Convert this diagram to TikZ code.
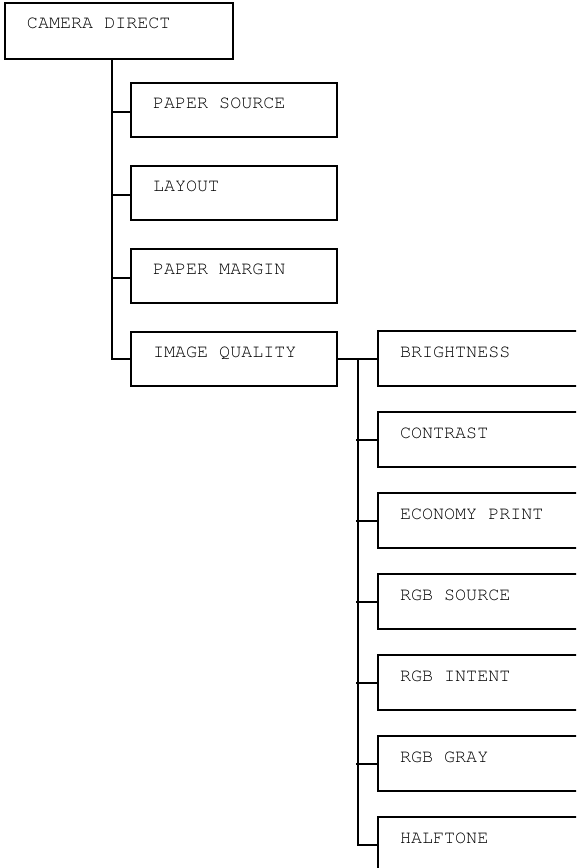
\documentclass[tikz,border=0pt]{standalone}
\usepackage[T1]{fontenc}
\renewcommand{\ttdefault}{pcr}
\begin{document}
\begin{tikzpicture}[x=1pt,y=-1pt,line width=2.2pt,font={\ttfamily\fontsize{18.4}{22}\selectfont},
 menu/.style={draw,anchor=north west,outer sep=0pt,inner xsep=22pt,inner ysep=0pt,text height=25pt,align=left,
  execute at begin node={\spaceskip=0.6em\xspaceskip=0.6em\relax}},
 lvlone/.style={menu,text width=162pt,text depth=29pt},
 lvltwo/.style={menu,text height=26pt,text width=200pt,text depth=29pt}]
\useasboundingbox (0,0) rectangle (576,868);
\clip (0,0) rectangle (576,868);
\node[menu,text width=184pt,text depth=31pt] (cam) at (5,3) {CAMERA DIRECT};
\node[lvlone] (ps) at (131,83) {PAPER SOURCE};
\node[lvlone] (lay) at (131,166) {LAYOUT};
\node[lvlone] (pm) at (131,249) {PAPER MARGIN};
\node[lvlone] (iq) at (131,332) {IMAGE QUALITY};
\node[lvltwo] (br) at (378,331) {BRIGHTNESS};
\node[lvltwo] (ct) at (378,412) {CONTRAST};
\node[lvltwo] (eco) at (378,493) {ECONOMY PRINT};
\node[lvltwo] (rs) at (378,574) {RGB SOURCE};
\node[lvltwo] (ri) at (378,655) {RGB INTENT};
\node[lvltwo] (rg) at (378,736) {RGB GRAY};
\node[lvltwo] (ht) at (378,817) {HALFTONE};
\draw ([xshift=-7pt]cam.south) |- ([yshift=-27pt]iq.north west);
\foreach \c in {ps,lay,pm}{\draw ([yshift=-29pt]\c.north west) -- ++(-19,0);}
\coordinate (jn) at ([xshift=-20pt,yshift=-28pt]br.north west);
\draw ([yshift=-28pt]br.north west) -- ([yshift=-28pt]br.north west -| iq.east);
\draw (jn) |- ([yshift=-28pt]ht.north west);
\foreach \c in {ct,eco,rs,ri,rg}{\draw ([yshift=-28pt]\c.north west) -- ++(-22,0);}
\end{tikzpicture}
\end{document}
